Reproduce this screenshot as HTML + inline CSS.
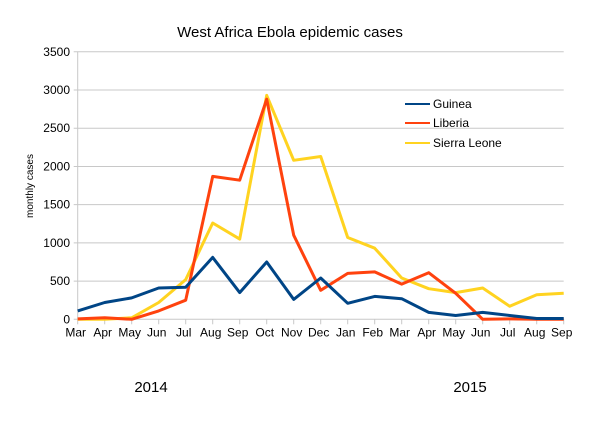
<!DOCTYPE html>
<html><head><meta charset="utf-8"><style>
html,body{margin:0;padding:0;background:#fff;}
svg{display:block;font-family:"Liberation Sans",sans-serif;}
</style></head><body>
<svg id="c" width="605" height="427" viewBox="0 0 605 427" xmlns="http://www.w3.org/2000/svg">
<rect width="605" height="427" fill="#fff"/>
<g id="grid" stroke="#c8c8c8" stroke-width="1"></g>
<text x="290" y="37" font-size="15" text-anchor="middle" fill="#000">West Africa Ebola epidemic cases</text>
<text x="33" y="186" font-size="10" text-anchor="middle" transform="rotate(-90 33 186)">monthly cases</text>
<g id="yl" font-size="12" text-anchor="end"></g>
<g id="xl" font-size="12" text-anchor="middle"></g>
<g id="s" fill="none" stroke-width="3" stroke-linejoin="round"></g>
<line x1="405" y1="104" x2="430" y2="104" stroke="#004586" stroke-width="2"/>
<line x1="405" y1="123" x2="430" y2="123" stroke="#ff420e" stroke-width="2"/>
<line x1="405" y1="143" x2="430" y2="143" stroke="#ffd320" stroke-width="2"/>
<text x="433" y="108" font-size="12">Guinea</text>
<text x="433" y="127" font-size="12">Liberia</text>
<text x="433" y="147" font-size="12">Sierra Leone</text>
<text x="151" y="392" font-size="15" text-anchor="middle">2014</text>
<text x="470" y="392" font-size="15" text-anchor="middle">2015</text>
</svg>
<script>
var NS="http://www.w3.org/2000/svg";
function el(p,t,a,txt){var e=document.createElementNS(NS,t);for(var k in a)e.setAttribute(k,a[k]);if(txt!==undefined)e.textContent=txt;p.appendChild(e);return e;}
var x0=77.7,dx=27,y0=319.3,ys=267.5/3500;
function X(i){return x0+i*dx}function Y(v){return y0-v*ys}
var g=document.getElementById('grid'),yl=document.getElementById('yl'),xl=document.getElementById('xl');
for(var v=0;v<=3500;v+=500){el(g,'line',{x1:x0-4,x2:X(18),y1:Y(v),y2:Y(v)});el(yl,'text',{x:70,y:Y(v)+4},v);}
el(g,'line',{x1:x0,x2:x0,y1:Y(3500),y2:Y(0)});
var m=['Mar','Apr','May','Jun','Jul','Aug','Sep','Oct','Nov','Dec','Jan','Feb','Mar','Apr','May','Jun','Jul','Aug','Sep'];
for(var i=0;i<19;i++){el(g,'line',{x1:X(i),x2:X(i),y1:y0,y2:y0+5});el(xl,'text',{x:X(i)-2,y:y0+17},m[i]);}
var S=[['#ffd320',[0,0,20,220,520,1260,1050,2930,2080,2130,1070,930,540,400,350,410,170,320,340]],
['#ff420e',[5,20,0,110,250,1870,1820,2880,1100,380,600,620,460,610,340,0,5,0,0]],
['#004586',[110,220,280,410,420,810,350,750,260,540,210,300,270,90,50,90,50,10,10]]];
var s=document.getElementById('s');
S.forEach(function(d){el(s,'polyline',{stroke:d[0],points:d[1].map(function(v,i){return X(i).toFixed(1)+','+Y(v).toFixed(1)}).join(' ')});});
</script>
</body></html>
